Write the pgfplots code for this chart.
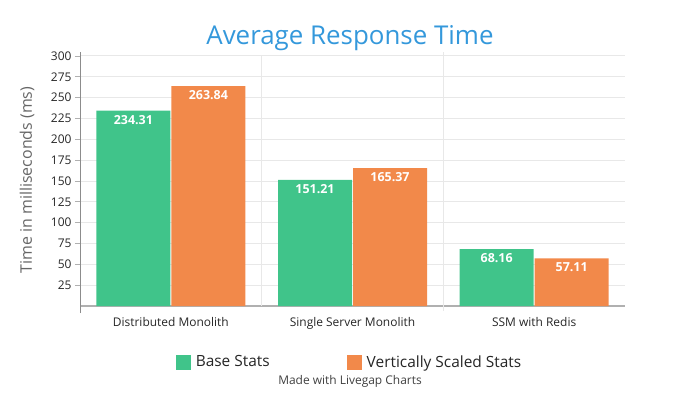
\documentclass[border=0pt]{standalone}
\usepackage{pgfplots}
\pgfplotsset{compat=1.18}
\usepackage{fontspec}
\setmainfont{Open Sans}
\definecolor{barG}{HTML}{40C48A}
\definecolor{barO}{HTML}{F2894A}
\definecolor{titleB}{HTML}{3498DB}
\definecolor{gridC}{HTML}{E8E8E8}
\definecolor{axisC}{HTML}{B0B0B0}
\begin{document}
\begin{tikzpicture}
\begin{axis}[
  scale only axis, width=545bp, height=250bp,
  xmin=-0.5, xmax=2.5, ymin=0, ymax=300,
  clip=false,
  ybar, bar width=74bp,
  /pgf/number format/assume math mode=true,
  xtick={0,1,2},
  xticklabels={Distributed Monolith, Single Server Monolith, SSM with Redis},
  x tick style={draw=none},
  extra x ticks={0.5,1.5},
  extra x tick labels={},
  extra x tick style={grid=major, major grid style={gridC, line width=1bp, shorten <=-5bp, shorten >=-4bp}, tick style={draw=none}},
  ytick={25,50,...,300},
  y tick style={draw=axisC, line width=0.8bp},
  tick align=outside, major tick length=5bp,
  ymajorgrids, major grid style={gridC, line width=1bp},
  axis x line*=bottom, axis y line*=left,
  x axis line style={draw=axisC, line width=2bp, -},
  y axis line style={draw=black!45, line width=0.8bp, -, shorten <=-7bp, shorten >=-4bp},
  yticklabel style={font=\fontsize{12}{14}\selectfont, text=black!85},
  xticklabel style={font=\fontsize{12}{14}\selectfont, text=black!85, yshift=-3bp},
  ylabel={Time in milliseconds (ms)},
  ylabel style={at={(axis description cs:-0.097,0.504)}, anchor=center, font=\fontsize{16}{19}\selectfont, text=black!60},
  title={Average Response Time},
  title style={at={(axis description cs:0.4954,1.046)}, anchor=center, font=\fontsize{26}{30}\selectfont, text=titleB},
  nodes near coords={\pgfmathprintnumber[fixed,fixed zerofill,precision=2]{\pgfplotspointmeta}},
  every node near coord/.append style={font=\fontsize{12.5}{14}\selectfont\bfseries, text=white, anchor=north, yshift=-1bp},
  legend columns=2,
  legend style={at={(axis description cs:0.4945,-0.224)}, anchor=center, draw=none, font=\fontsize{15.5}{18}\selectfont, text=black!85, /tikz/every even column/.append style={column sep=75bp}},
]
\addplot[fill=barG, draw=none, bar shift=-37.5bp, legend image code/.code={\fill[barG] (0bp,-7.5bp) rectangle (15bp,7.5bp); \path (18bp,0bp);}] coordinates {(0,234.31) (1,151.21) (2,68.16)};
\addlegendentry{Base Stats}
\addplot[fill=barO, draw=none, bar shift=37.5bp, legend image code/.code={\fill[barO] (0bp,-7.5bp) rectangle (15bp,7.5bp); \path (18bp,0bp);}] coordinates {(0,263.84) (1,165.37) (2,57.11)};
\addlegendentry{Vertically Scaled Stats}
\node[font=\fontsize{12}{14}\selectfont, text=black!75] at (axis description cs:0.4954,-0.3) {Made with Livegap Charts};
\coordinate (bl) at (rel axis cs:0,0);
\coordinate (tr) at (rel axis cs:1,1);
\end{axis}
\pgfresetboundingbox
\useasboundingbox ([shift={(-80bp,-94bp)}]bl) rectangle ([shift={(75bp,56bp)}]tr);
\end{tikzpicture}
\end{document}
